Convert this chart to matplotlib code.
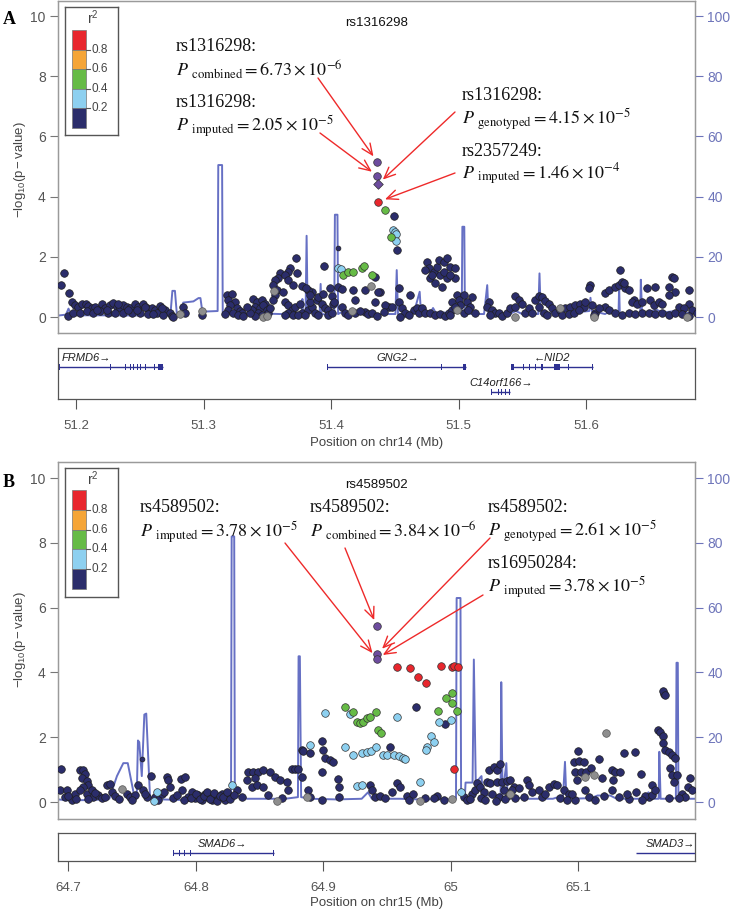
import matplotlib
matplotlib.use('Agg')
import matplotlib.pyplot as plt
from matplotlib.patches import Rectangle

plt.rcParams['font.family'] = ['Liberation Sans', 'DejaVu Sans']
plt.rcParams['mathtext.fontset'] = 'stix'

# ---------------- DATA: panel A (chr14) ----------------
a_navy = [
 (51.1901,1.47),(51.1881,1.06),(51.1944,0.79),(51.1965,0.51),(51.1933,0.03),
 (51.1991,0.40),(51.2017,0.34),(51.2043,0.42),(51.2075,0.45),(51.2095,0.38),
 (51.2122,0.29),(51.2148,0.34),(51.2200,0.45),(51.2227,0.29),(51.2265,0.40),
 (51.2292,0.48),(51.2318,0.34),(51.2344,0.29),(51.2370,0.40),(51.2397,0.34),
 (51.2423,0.29),(51.2462,0.42),(51.2488,0.34),(51.2527,0.42),(51.2554,0.29),
 (51.2593,0.31),(51.2619,0.23),(51.2658,0.38),(51.2697,0.23),(51.2737,0.12),
 (51.2750,0.05),(51.1978,0.15),(51.2030,0.12),(51.2082,0.20),(51.2135,0.15),
 (51.2187,0.20),(51.2253,0.15),(51.2305,0.12),(51.2370,0.12),(51.2436,0.15),
 (51.2501,0.12),(51.2567,0.09),(51.2632,0.15),(51.2684,0.07),(51.2763,0.01),
 (51.2160,0.25),(51.2240,0.22),(51.2330,0.45),(51.2410,0.22),(51.2480,0.22),
 (51.2540,0.35),(51.2600,0.10),(51.2670,0.30),(51.2841,0.34),(51.2851,0.12),
 (51.2985,0.07),
 (51.3181,0.73),(51.3220,0.75),(51.3194,0.57),(51.3247,0.51),(51.3208,0.40),
 (51.3260,0.29),(51.3194,0.23),(51.3286,0.20),(51.3234,0.15),(51.3299,0.12),
 (51.3168,0.09),(51.3273,0.07),(51.3312,0.05),(51.3391,0.60),(51.3417,0.51),
 (51.3456,0.57),(51.3482,0.45),(51.3404,0.34),(51.3443,0.29),(51.3469,0.40),
 (51.3495,0.23),(51.3378,0.23),(51.3430,0.15),(51.3508,0.12),(51.3456,0.07),
 (51.3404,0.05),(51.3365,0.12),(51.3340,0.35),(51.3520,0.30),
 (51.3723,1.95),(51.3678,1.64),(51.3660,1.51),(51.3600,1.46),(51.3587,1.29),
 (51.3560,1.23),(51.3547,1.06),(51.3639,1.40),(51.3665,1.23),(51.3730,1.46),
 (51.3704,1.06),(51.3574,0.90),(51.3560,0.73),(51.3626,0.84),(51.3547,0.57),
 (51.3639,0.51),(51.3665,0.40),(51.3691,0.23),(51.3718,0.34),(51.3757,0.45),
 (51.3665,0.15),(51.3639,0.07),(51.3704,0.07),(51.3770,0.15),(51.3744,0.07),
 (51.3822,0.23),(51.3848,0.34),(51.3874,0.15),(51.3796,0.07),(51.3901,0.07),
 (51.3835,0.49),(51.3888,0.57),(51.3927,0.42),(51.3953,0.29),(51.3848,0.84),
 (51.3822,0.90),(51.3835,0.73),(51.3901,0.68),(51.3940,0.75),(51.3992,0.98),
 (51.4005,0.71),(51.4018,0.45),(51.3979,0.23),(51.3948,1.71),(51.4026,0.49),
 (51.3979,0.07),(51.4005,0.12),(51.3770,1.02),(51.3800,0.95),
 (51.4058,1.01),(51.4089,0.93),(51.4170,0.90),(51.4267,0.90),(51.4385,0.84),
 (51.4188,0.57),(51.4084,0.34),(51.4267,0.18),(51.4345,0.51),(51.4188,0.12),
 (51.4293,0.09),(51.4110,0.15),(51.4136,0.07),(51.4228,0.20),(51.4319,0.12),
 (51.4358,0.05),
 (51.4346,1.34),(51.4372,0.84),(51.4490,3.36),(51.4516,2.23),(51.4529,0.95),
 (51.4451,0.34),(51.4425,0.40),(51.4477,0.34),(51.4412,0.18),(51.4529,0.51),
 (51.4555,0.29),(51.4581,0.12),(51.4621,0.73),(51.4647,0.23),(51.4673,0.31),
 (51.4686,0.15),(51.4608,0.07),(51.4542,0.01),(51.4712,0.29),(51.4738,0.15),
 (51.4778,0.12),(51.4817,0.07),(51.4856,0.09),(51.4895,0.05),(51.4922,0.15),
 (51.4948,0.23),
 (51.4751,1.82),(51.4765,1.62),(51.4738,1.56),(51.4804,1.51),(51.4830,1.67),
 (51.4843,1.89),(51.4882,1.84),(51.4908,1.95),(51.4935,1.67),(51.4974,1.62),
 (51.4856,1.40),(51.4778,1.31),(51.4908,1.29),(51.4817,1.12),(51.4869,1.01),
 (51.4974,1.29),(51.4791,1.40),(51.4882,1.51),(51.4935,1.40),
 (51.4987,0.73),(51.5039,0.73),(51.5105,0.68),(51.4948,0.51),(51.5000,0.57),
 (51.5066,0.51),(51.5013,0.40),(51.5092,0.34),(51.5039,0.15),(51.5078,0.23),
 (51.5131,0.12),(51.4974,0.34),(51.4935,0.07),
 (51.5235,0.51),(51.5222,0.34),(51.5262,0.23),(51.5288,0.15),(51.5248,0.07),
 (51.5314,0.12),(51.5340,0.05),(51.5379,0.15),(51.5405,0.29),(51.5445,0.71),
 (51.5471,0.57),(51.5497,0.45),(51.5523,0.15),(51.5549,0.29),(51.5576,0.12),
 (51.5445,0.34),(51.5602,0.57),(51.5628,0.71),(51.5654,0.68),(51.5680,0.53),
 (51.5706,0.45),(51.5733,0.29),(51.5628,0.34),(51.5667,0.15),(51.5693,0.07),
 (51.5759,0.15),(51.5798,0.23),(51.5837,0.29),(51.5876,0.34),(51.5915,0.40),
 (51.5955,0.45),(51.5981,0.34),(51.5811,0.07),(51.5863,0.09),(51.5902,0.15),
 (51.5942,0.23),(51.5994,0.51),
 (51.6033,1.06),(51.6020,0.95),(51.6151,0.79),(51.6177,0.90),(51.6229,1.01),
 (51.6255,1.06),(51.6269,1.56),(51.6282,1.17),(51.6308,0.95),(51.6335,0.90),
 (51.6295,1.12),(51.6373,0.57),(51.6360,0.51),(51.6400,0.45),(51.6439,0.51),
 (51.6478,0.95),(51.6543,1.01),(51.6504,0.57),(51.6530,0.40),(51.6570,0.51),
 (51.6596,0.45),(51.6648,1.01),(51.6674,1.34),(51.6687,1.29),(51.6700,0.84),
 (51.6648,0.73),(51.6805,0.90),(51.6805,0.45),(51.6727,0.34),(51.6766,0.29),
 (51.6831,0.23),(51.6870,0.15),
 (51.6151,0.34),(51.6177,0.23),(51.6229,0.15),(51.6282,0.07),(51.6335,0.15),
 (51.6387,0.09),(51.6439,0.15),(51.6491,0.12),(51.6543,0.09),(51.6596,0.15),
 (51.6648,0.07),(51.6700,0.12),(51.6753,0.09),(51.6805,0.05),(51.6072,0.15),
 (51.6098,0.29),(51.6046,0.40),(51.6059,0.07),
]
a_navy_small = [(51.4058,2.30)]
a_gray = [(51.2815,0.09),(51.2985,0.21),(51.3469,0.00),(51.3495,0.05),(51.3554,0.88),
          (51.4314,1.02),(51.4162,0.20),(51.4987,0.23),(51.5445,0.00),(51.5798,0.29),
          (51.6059,0.00),(51.6792,0.00)]
a_lblue = [(51.4058,1.64),(51.4076,1.60),(51.4482,2.89),(51.4500,2.81),(51.4511,2.75),(51.4511,2.53)]
a_green = [(51.4097,1.40),(51.4136,1.48),(51.4170,1.48),(51.4241,1.64),(51.4262,1.71),
           (51.4319,1.40),(51.4425,3.55),(51.4469,2.67)]
a_red = [(51.4372,3.83)]
a_purple = [(51.4364,5.15),(51.4364,4.69)]
a_lead = [(51.4366,4.41)]

a_recomb = [
 (51.186,0.5),(51.192,0.8),(51.194,2.8),(51.196,0.6),(51.270,0.5),(51.274,1.0),
 (51.2755,8.7),(51.2775,8.7),(51.279,1.0),(51.283,1.2),(51.284,4.8),(51.292,5.2),
 (51.296,6.3),(51.2975,6.3),(51.299,1.8),(51.311,2.0),(51.3115,50.5),(51.3145,50.5),
 (51.315,1.5),(51.325,1.0),(51.345,1.2),(51.360,1.0),(51.370,1.0),(51.3770,1.3),
 (51.3775,6.0),(51.3780,1.5),(51.3800,1.5),(51.3808,27.0),(51.3816,1.5),(51.386,2.0),
 (51.391,1.0),(51.3918,11.0),(51.3926,1.0),(51.397,0.8),(51.4025,1.0),(51.403,34.0),
 (51.405,34.0),(51.4055,1.0),(51.410,2.0),(51.415,1.0),(51.425,1.5),(51.430,1.0),
 (51.4505,1.0),(51.4515,15.6),(51.4525,1.0),(51.460,1.2),(51.466,3.0),(51.4695,8.4),
 (51.4705,1.5),(51.478,1.5),(51.480,3.0),(51.482,1.5),(51.5025,1.5),(51.503,30.0),
 (51.5045,30.0),(51.505,1.5),(51.510,1.0),(51.520,1.0),(51.5225,10.6),(51.5235,1.0),
 (51.540,1.0),(51.545,2.0),(51.550,1.0),(51.5625,1.0),(51.5635,14.5),(51.5645,1.0),
 (51.575,1.5),(51.580,2.5),(51.590,1.5),(51.6025,2.0),(51.6035,6.4),(51.6045,2.0),
 (51.615,1.0),(51.620,2.5),(51.6255,1.0),(51.626,10.0),(51.6265,1.0),(51.635,1.2),
 (51.6425,1.0),(51.643,12.4),(51.644,1.0),(51.655,2.5),(51.660,1.5),(51.670,2.0),
 (51.675,1.2),(51.685,1.5),
]

# genes: label, start, end, exons, row, label x, label alignment
a_genes = [
 ("FRMD6\u2192", 51.150, 51.2678,
  [(51.1865,51.1872),(51.2264,51.2270),(51.2348,51.2354),(51.2385,51.2391),(51.2421,51.2427),
   (51.2447,51.2453),(51.2477,51.2483),(51.2502,51.2508),(51.2539,51.2545),(51.2568,51.2574),
   (51.2612,51.2618),(51.2645,51.2678)], 0, 51.1885, 'left'),
 ("GNG2\u2192", 51.397, 51.506,
  [(51.3970,51.3976),(51.4146,51.4152),(51.4866,51.4872),(51.5034,51.5060)], 0, 51.452, 'center'),
 ("\u2190NID2", 51.5412, 51.6051,
  [(51.5412,51.5438),(51.5472,51.5478),(51.5508,51.5514),(51.5556,51.5562),(51.5600,51.5606),
   (51.5647,51.5666),(51.5750,51.5794),(51.5857,51.5863),(51.5949,51.5955),(51.6045,51.6051)],
  0, 51.573, 'center'),
 ("C14orf166\u2192", 51.5254, 51.5401,
  [(51.5254,51.5260),(51.5283,51.5289),(51.5309,51.5315),(51.5335,51.5341),(51.5364,51.5370),
   (51.5395,51.5401)], 1, 51.5335, 'center'),
]
a_xticks = [51.2, 51.3, 51.4, 51.5, 51.6]
a_xticklabels = ['51.2', '51.3', '51.4', '51.5', '51.6']

# ---------------- DATA: panel B (chr15) ----------------
b_navy = [
 (64.6941,1.01),(64.6933,0.37),(64.6986,0.37),(64.6972,0.16),(64.7025,0.06),
 (64.7051,0.26),(64.7090,0.99),(64.7116,0.99),(64.7129,0.88),(64.7103,0.73),
 (64.7142,0.66),(64.7156,0.52),(64.7116,0.47),(64.7090,0.37),(64.7142,0.26),
 (64.7182,0.37),(64.7195,0.16),(64.7234,0.21),(64.7260,0.11),(64.7286,0.16),
 (64.7299,0.52),(64.7326,0.55),(64.7339,0.32),(64.7365,0.18),(64.7456,0.26),
 (64.7483,0.16),(64.7522,0.21),(64.7543,0.52),(64.7587,0.37),
 (64.7613,0.16),(64.7647,0.80),(64.7679,0.16),(64.7731,0.26),(64.7770,0.76),
 (64.7783,0.68),(64.7796,0.47),(64.7823,0.11),(64.7883,0.70),(64.7914,0.76),
 (64.7888,0.37),(64.7940,0.16),(64.7967,0.32),(64.7993,0.11),(64.8019,0.21),
 (64.8045,0.06),(64.8071,0.26),(64.8097,0.16),(64.8124,0.06),(64.8150,0.21),
 (64.8176,0.11),(64.8202,0.26),(64.8228,0.06),(64.8254,0.18),(64.8320,0.37),
 (64.8359,0.16),(64.8398,0.68),(64.8411,0.94),(64.8451,0.94),(64.8490,0.94),
 (64.8529,0.99),(64.8581,0.94),(64.8464,0.73),(64.8438,0.47),(64.8477,0.52),
 (64.8529,0.47),(64.8621,0.76),(64.8660,0.68),(64.8712,0.63),(64.8725,0.37),
 (64.8568,0.21),(64.8673,0.11),(64.8751,1.02),(64.8778,1.02),(64.8804,1.02),
 (64.8830,1.61),(64.8843,1.56),(64.8895,1.50),(64.8830,0.76),(64.8882,0.37),
 (64.8895,0.16),(64.8987,1.89),(64.9000,1.61),(64.9013,1.35),(64.9052,1.30),
 (64.9078,1.25),(64.8987,0.94),(64.8987,0.06),(64.9118,0.70),(64.9125,0.47),
 (64.9123,0.16),(64.9366,0.52),(64.9379,0.37),(64.9405,0.16),(64.9445,0.18),
 (64.7905,0.05),(64.7960,0.12),(64.8000,0.25),(64.8030,0.08),(64.8060,0.18),
 (64.8085,0.30),(64.8110,0.10),(64.8140,0.28),(64.8165,0.04),(64.8190,0.20),
 (64.8215,0.14),(64.8240,0.30),(64.8270,0.08),(64.8300,0.22),(64.7000,0.20),
 (64.7060,0.10),(64.7150,0.08),(64.7210,0.28),(64.7400,0.10),(64.7500,0.05),
 (64.7600,0.25),(64.7700,0.05),(64.7750,0.30),(64.7850,0.22),
 (64.9524,1.69),(64.9725,2.94),(64.9950,2.40),(64.9576,0.58),(64.9602,0.47),
 (64.9484,0.11),(64.9654,0.18),(64.9668,0.06),(64.9798,0.11),(64.9890,0.18),
 (64.9942,0.06),(64.9864,0.11),(64.9540,0.30),(64.9700,0.25),
 (65.0099,0.16),(65.0125,0.06),(65.0165,0.26),(65.0191,0.37),(65.0204,0.58),
 (65.0230,0.47),(65.0256,0.32),(65.0282,0.63),(65.0308,0.58),(65.0295,0.99),
 (65.0335,1.09),(65.0361,0.99),(65.0387,1.17),(65.0361,0.63),(65.0400,0.63),
 (65.0439,0.66),(65.0466,0.68),(65.0322,0.26),(65.0374,0.16),(65.0413,0.37),
 (65.0452,0.21),(65.0492,0.47),(65.0505,0.11),(65.0479,0.37),(65.0150,0.10),
 (65.0240,0.12),(65.0270,0.05),(65.0350,0.04),(65.0425,0.08),
 (65.0596,0.68),(65.0609,0.52),(65.0531,0.42),(65.0570,0.16),(65.0636,0.32),
 (65.0688,0.37),(65.0714,0.16),(65.0766,0.47),(65.0806,0.55),(65.0832,0.52),
 (65.0740,0.26),(65.0858,0.11),(65.0884,0.37),(65.0923,0.26),(65.0910,0.06),
 (65.0997,1.58),(65.0963,1.25),(65.1007,1.28),(65.1041,1.25),(65.0976,0.94),
 (65.1023,0.94),(65.1059,0.94),(65.0989,0.68),(65.1101,1.04),(65.1159,1.32),
 (65.1185,0.73),(65.1263,0.99),(65.1290,0.94),(65.1329,0.94),(65.1268,0.68),
 (65.1355,1.52),(65.1441,1.55),(65.1494,0.86),(65.1263,0.37),(65.1316,0.16),
 (65.1080,0.16),(65.1133,0.06),(65.0976,0.06),(65.1054,0.37),(65.0950,0.26),
 (65.1577,0.52),(65.1551,0.16),(65.1525,0.18),(65.1577,0.23),(65.1499,0.06),
 (65.1603,0.37),(65.1624,2.22),(65.1643,2.16),(65.1661,2.05),(65.1661,1.83),
 (65.1682,1.60),(65.1708,1.55),(65.1734,1.45),(65.1760,1.35),(65.1721,1.04),
 (65.1734,0.83),(65.1747,0.63),(65.1774,0.83),(65.1878,0.73),(65.1860,0.47),
 (65.1891,0.37),(65.1812,0.26),(65.1838,0.16),(65.1786,0.11),(65.1708,0.11),
 (65.1669,3.35),(65.1661,3.42),(65.1677,3.30),(65.1400,0.10),(65.1450,0.30),
 (65.1200,0.20),(65.1380,0.25),
]
b_navy_small = [(64.7574,1.33)]
b_gray = [(64.7417,0.40),(64.8634,0.04),(64.8869,0.14),(64.9759,0.04),(65.0008,0.08),
          (65.0466,0.26),(65.1119,0.83),(65.1054,0.78),(65.1219,2.12)]
b_lblue = [(64.7692,0.32),(64.7674,0.02),(64.8280,0.52),(64.9013,2.74),(64.9170,1.71),
           (64.9209,2.73),(64.9235,1.45),(64.9301,1.50),(64.9340,1.55),(64.9374,1.58),
           (64.9411,1.71),(64.9262,0.50),(64.9306,0.52),(64.8895,1.76),(64.9576,2.61),
           (64.9471,1.45),(64.9498,1.45),(64.9550,1.45),(64.9589,1.42),(64.9628,1.35),
           (64.9641,1.32),(64.9903,2.48),(65.0000,2.52),(64.9843,2.05),(64.9864,1.85),
           (64.9811,1.70),(64.9806,1.62),(64.9759,0.63),(65.0081,0.32)]
b_green = [(64.9170,2.92),(64.9230,2.79),(64.9262,2.48),(64.9288,2.43),(64.9314,2.48),
           (64.9340,2.58),(64.9366,2.63),(64.9413,2.79),(64.9432,2.22),(64.9453,2.12),
           (64.9898,2.80),(64.9963,3.20),(65.0008,3.36),(65.0012,3.07),(65.0047,2.82)]
b_red = [(64.9576,4.18),(64.9680,4.14),(64.9738,3.87),(64.9806,3.68),(64.9924,4.20),
         (65.0007,4.16),(65.0026,4.20),(65.0052,4.16),(65.0021,1.01)]
b_purple = [(64.9419,5.42),(64.9422,4.58),(64.9419,4.43)]
b_lead = []

b_recomb = [
 (64.692,0.8),(64.700,0.5),(64.715,0.6),(64.730,0.8),(64.732,1.0),(64.738,8.0),
 (64.743,12.0),(64.7465,12.0),(64.752,1.0),(64.7535,1.0),(64.7545,19.0),(64.7555,18.5),
 (64.7575,8.0),(64.7595,27.0),(64.7610,27.3),(64.764,1.0),(64.770,2.0),(64.773,0.8),
 (64.800,0.5),(64.8275,0.5),(64.828,82.0),(64.830,82.0),(64.8305,1.5),(64.835,2.0),
 (64.840,1.0),(64.870,1.0),(64.880,1.5),(64.8805,45.0),(64.8815,45.0),(64.8825,1.5),
 (64.890,1.0),(64.910,0.8),(64.930,1.0),(64.935,3.0),(64.938,1.0),(64.960,1.0),
 (64.975,0.8),(65.000,0.8),(65.004,1.0),(65.0045,63.0),(65.0075,63.0),(65.008,2.0),
 (65.011,2.0),(65.0115,6.0),(65.017,6.0),(65.018,44.0),(65.0195,6.0),(65.024,8.0),
 (65.025,2.0),(65.039,2.0),(65.0395,37.0),(65.0405,2.0),(65.0435,12.0),(65.0445,1.5),
 (65.060,1.0),(65.080,1.0),(65.088,2.0),(65.0895,12.4),(65.0905,2.0),(65.095,1.0),
 (65.110,1.2),(65.115,2.0),(65.125,2.0),(65.130,1.0),(65.150,1.0),(65.155,3.0),
 (65.158,1.0),(65.163,1.0),(65.1635,15.5),(65.1645,1.0),(65.170,1.0),(65.1765,1.2),
 (65.177,43.0),(65.178,43.0),(65.1785,1.2),(65.185,1.0),(65.192,1.0),
]
b_genes = [
 ("SMAD6\u2192", 64.7821, 64.8611,
  [(64.7818,64.7824),(64.7866,64.7872),(64.7910,64.7916),(64.7957,64.7963),(64.8605,64.8611)],
  0, 64.8207, 'center'),
 ("SMAD3\u2192", 65.1453, 65.25, [(65.1450,65.1456)], 0, 65.1718, 'center'),
]
b_xticks = [64.7, 64.8, 64.9, 65.0, 65.1]
b_xticklabels = ['64.7', '64.8', '64.9', '65', '65.1']

# ---------------- STYLE ----------------
NAVY = '#2B2D6B'
LBLUE = '#8DD0F0'
GREEN = '#66BB46'
ORANGE = '#F5A537'
RED = '#E8262D'
PURPLE = '#6D4C9E'
GRAY = '#8E8E8E'
RECOMB = '#6670C4'
RAXIS = '#6E75BA'
TICKC = '#555555'
ARROWC = '#EE2A2A'

W, H = 735, 913
fig = plt.figure(figsize=(W / 100, H / 100), dpi=100)


def fbox(l, t, r, b):
    return [l / W, 1 - b / H, (r - l) / W, (b - t) / H]


def unzip(pts):
    return [p[0] for p in pts], [p[1] for p in pts]


def scatter(ax, pts, color, s=30, marker='o', ec='#1E1E1E', z=3):
    if not pts:
        return
    x, y = unzip(pts)
    ax.scatter(x, y, s=s, c=color, marker=marker, edgecolors=ec, linewidths=0.5, zorder=z)


def main_panel(top, bottom, xlim, ylim, groups, recomb, title):
    ax = fig.add_axes(fbox(58.3, top, 695, bottom))
    ax2 = ax.twinx()
    ax.set_zorder(ax2.get_zorder() + 1)
    ax.patch.set_visible(False)
    rx, ry = unzip(recomb)
    ax2.plot(rx, ry, color=RECOMB, lw=1.4, zorder=1)
    ax.set_xlim(*xlim)
    ax2.set_xlim(*xlim)
    ax.set_ylim(*ylim)
    ax2.set_ylim(ylim[0] * 10, ylim[1] * 10)
    ax.set_xticks([])
    ax.set_yticks([0, 2, 4, 6, 8, 10])
    ax2.set_yticks([0, 20, 40, 60, 80, 100])
    ax.tick_params(axis='y', direction='out', length=6, width=0.8, color='#777777',
                   labelcolor=TICKC, labelsize=10, pad=3)
    ax2.tick_params(axis='y', direction='out', length=6, width=0.8, color=RAXIS,
                    labelcolor=RAXIS, labelsize=10, pad=3)
    for a in (ax, ax2):
        for sp in a.spines.values():
            sp.set_color('#9A9A9A')
            sp.set_linewidth(0.9)
    navy, small, gray, lblue, green, red, purple, lead = groups
    scatter(ax, navy, NAVY)
    scatter(ax, small, NAVY, s=12)
    scatter(ax, gray, GRAY, ec='#555555')
    scatter(ax, lblue, LBLUE, ec='#333333')
    scatter(ax, green, GREEN, ec='#333333')
    scatter(ax, red, RED, ec='#333333')
    scatter(ax, purple, PURPLE, ec='#333333', z=4)
    scatter(ax, lead, PURPLE, marker='D', s=24, ec='#333333', z=4)
    ax.text(sum(xlim) / 2, 9.78, title, ha='center', va='center', fontsize=9.5, color='#111111')
    return ax


def legend(l, t, r, b, bar_t, bar_b):
    lax = fig.add_axes(fbox(l, t, r, b))
    lax.set_xlim(l, r)
    lax.set_ylim(b, t)
    lax.set_xticks([])
    lax.set_yticks([])
    for sp in lax.spines.values():
        sp.set_color('#555555')
        sp.set_linewidth(1.0)
    cols = [RED, ORANGE, GREEN, LBLUE, NAVY]
    hgt = (bar_b - bar_t) / 5
    for i, c in enumerate(cols):
        lax.add_patch(Rectangle((72, bar_t + i * hgt), 14, hgt, facecolor=c,
                                edgecolor='#777777', lw=0.5))
    for i, lab in enumerate(['0.8', '0.6', '0.4', '0.2']):
        yy = bar_t + (i + 1) * hgt
        lax.plot([86, 90], [yy, yy], color='#555555', lw=0.8)
        lax.text(91, yy, lab, ha='left', va='center', fontsize=8.5, color='#444444')
    lax.text(92.5, t + 11, r'$\mathregular{r^2}$', ha='center', va='center',
             fontsize=10, color='#444444')


def gene_panel(top, bottom, xlim, genes, xticks, xticklabels, rows_y, exon_h):
    gax = fig.add_axes(fbox(58.3, top, 695, bottom))
    gax.set_xlim(*xlim)
    gax.set_ylim(0, 1)
    gax.set_yticks([])
    gax.set_xticks(xticks)
    gax.set_xticklabels(xticklabels)
    gax.tick_params(axis='x', direction='out', length=7, width=0.8, color='#555555',
                    labelcolor=TICKC, labelsize=9.5, pad=8)
    for sp in gax.spines.values():
        sp.set_color('#555555')
        sp.set_linewidth(0.9)
    for name, st, en, exons, row, lx, ha in genes:
        ly, lab_y = rows_y[row]
        gax.plot([st, en], [ly, ly], color='#2E3192', lw=1.0, solid_capstyle='butt')
        for es, ee in exons:
            gax.add_patch(Rectangle((es, ly - exon_h / 2), max(ee - es, 0.0006), exon_h,
                                    facecolor='#2E3192', edgecolor='none'))
        gax.text(lx, lab_y, name, ha=ha, va='center', fontsize=8, style='italic',
                 color='#222222')
    return gax


def note(x, y_base, name, pline):
    fig.text(x / W, 1 - y_base[0] / H, name, family='Liberation Serif', fontsize=13,
             ha='left', va='baseline', color='#111111')
    fig.text(x / W, 1 - y_base[1] / H, pline, fontsize=13, ha='left', va='baseline',
             color='#111111')


def arrow(ax, target, start):
    ax.annotate('', xy=target, xycoords='data', xytext=(start[0], H - start[1]),
                textcoords='figure pixels',
                arrowprops=dict(arrowstyle='->,head_length=0.8,head_width=0.35',
                                color=ARROWC, lw=1.0, shrinkA=0, shrinkB=5))


def pline(sub, mant, exp):
    return r'$P\ {}_{\mathrm{%s}} = %s\times10^{%s}$' % (sub, mant, exp)


# ---------------- PANEL A ----------------
xlimA = (51.186, 51.6855)
axA = main_panel(1, 333, xlimA, (-0.53, 10.5),
                 (a_navy, a_navy_small, a_gray, a_lblue, a_green, a_red, a_purple, a_lead),
                 a_recomb, 'rs1316298')
legend(65, 7, 118, 135, 30, 128)
gene_panel(348, 399, xlimA, a_genes, a_xticks, a_xticklabels,
           {0: (0.63, 0.81), 1: (0.14, 0.31)}, 0.12)
fig.text(376.7 / W, 1 - 443 / H, 'Position on chr14 (Mb)', ha='center', va='center',
         fontsize=9.5, color='#444444')
fig.text(20 / W, 1 - 170 / H, r'$\mathregular{-log_{10}(p-value)}$', rotation=90,
         ha='center', va='center', fontsize=9.5, color='#444444')
fig.text(9 / W, 1 - 20 / H, 'A', family='Liberation Serif', weight='bold', fontsize=13,
         ha='center', va='center')

note(176, (51, 76), 'rs1316298:', pline('combined', '6.73', '-6'))
note(176, (107, 131), 'rs1316298:', pline('imputed', '2.05', '-5'))
note(462, (100, 124), 'rs1316298:', pline('genotyped', '4.15', '-5'))
note(462, (156, 179), 'rs2357249:', pline('imputed', '1.46', '-4'))
arrow(axA, a_purple[0], (318, 78))
arrow(axA, a_purple[1], (320, 133))
arrow(axA, a_lead[0], (455, 112))
arrow(axA, a_red[0], (455, 173))

# ---------------- PANEL B ----------------
xlimB = (64.692, 65.1915)
axB = main_panel(462, 819, xlimB, (-0.525, 10.5),
                 (b_navy, b_navy_small, b_gray, b_lblue, b_green, b_red, b_purple, b_lead),
                 b_recomb, 'rs4589502')
legend(65, 468, 118, 597, 490, 589)
gene_panel(833, 861, xlimB, b_genes, b_xticks, b_xticklabels, {0: (0.29, 0.62)}, 0.21)
fig.text(376.7 / W, 1 - 903 / H, 'Position on chr15 (Mb)', ha='center', va='center',
         fontsize=9.5, color='#444444')
fig.text(20 / W, 1 - 640 / H, r'$\mathregular{-log_{10}(p-value)}$', rotation=90,
         ha='center', va='center', fontsize=9.5, color='#444444')
fig.text(9 / W, 1 - 482 / H, 'B', family='Liberation Serif', weight='bold', fontsize=13,
         ha='center', va='center')

note(140, (512, 537), 'rs4589502:', pline('imputed', '3.78', '-5'))
note(310, (512, 537), 'rs4589502:', pline('combined', '3.84', '-6'))
note(488, (512, 536), 'rs4589502:', pline('genotyped', '2.61', '-5'))
note(488, (568, 592), 'rs16950284:', pline('imputed', '3.78', '-5'))
arrow(axB, b_purple[2], (285, 543))
arrow(axB, b_purple[0], (345, 548))
arrow(axB, b_purple[1], (490, 538))
arrow(axB, b_purple[2], (483, 595))

fig.savefig('out.png', dpi=100)
